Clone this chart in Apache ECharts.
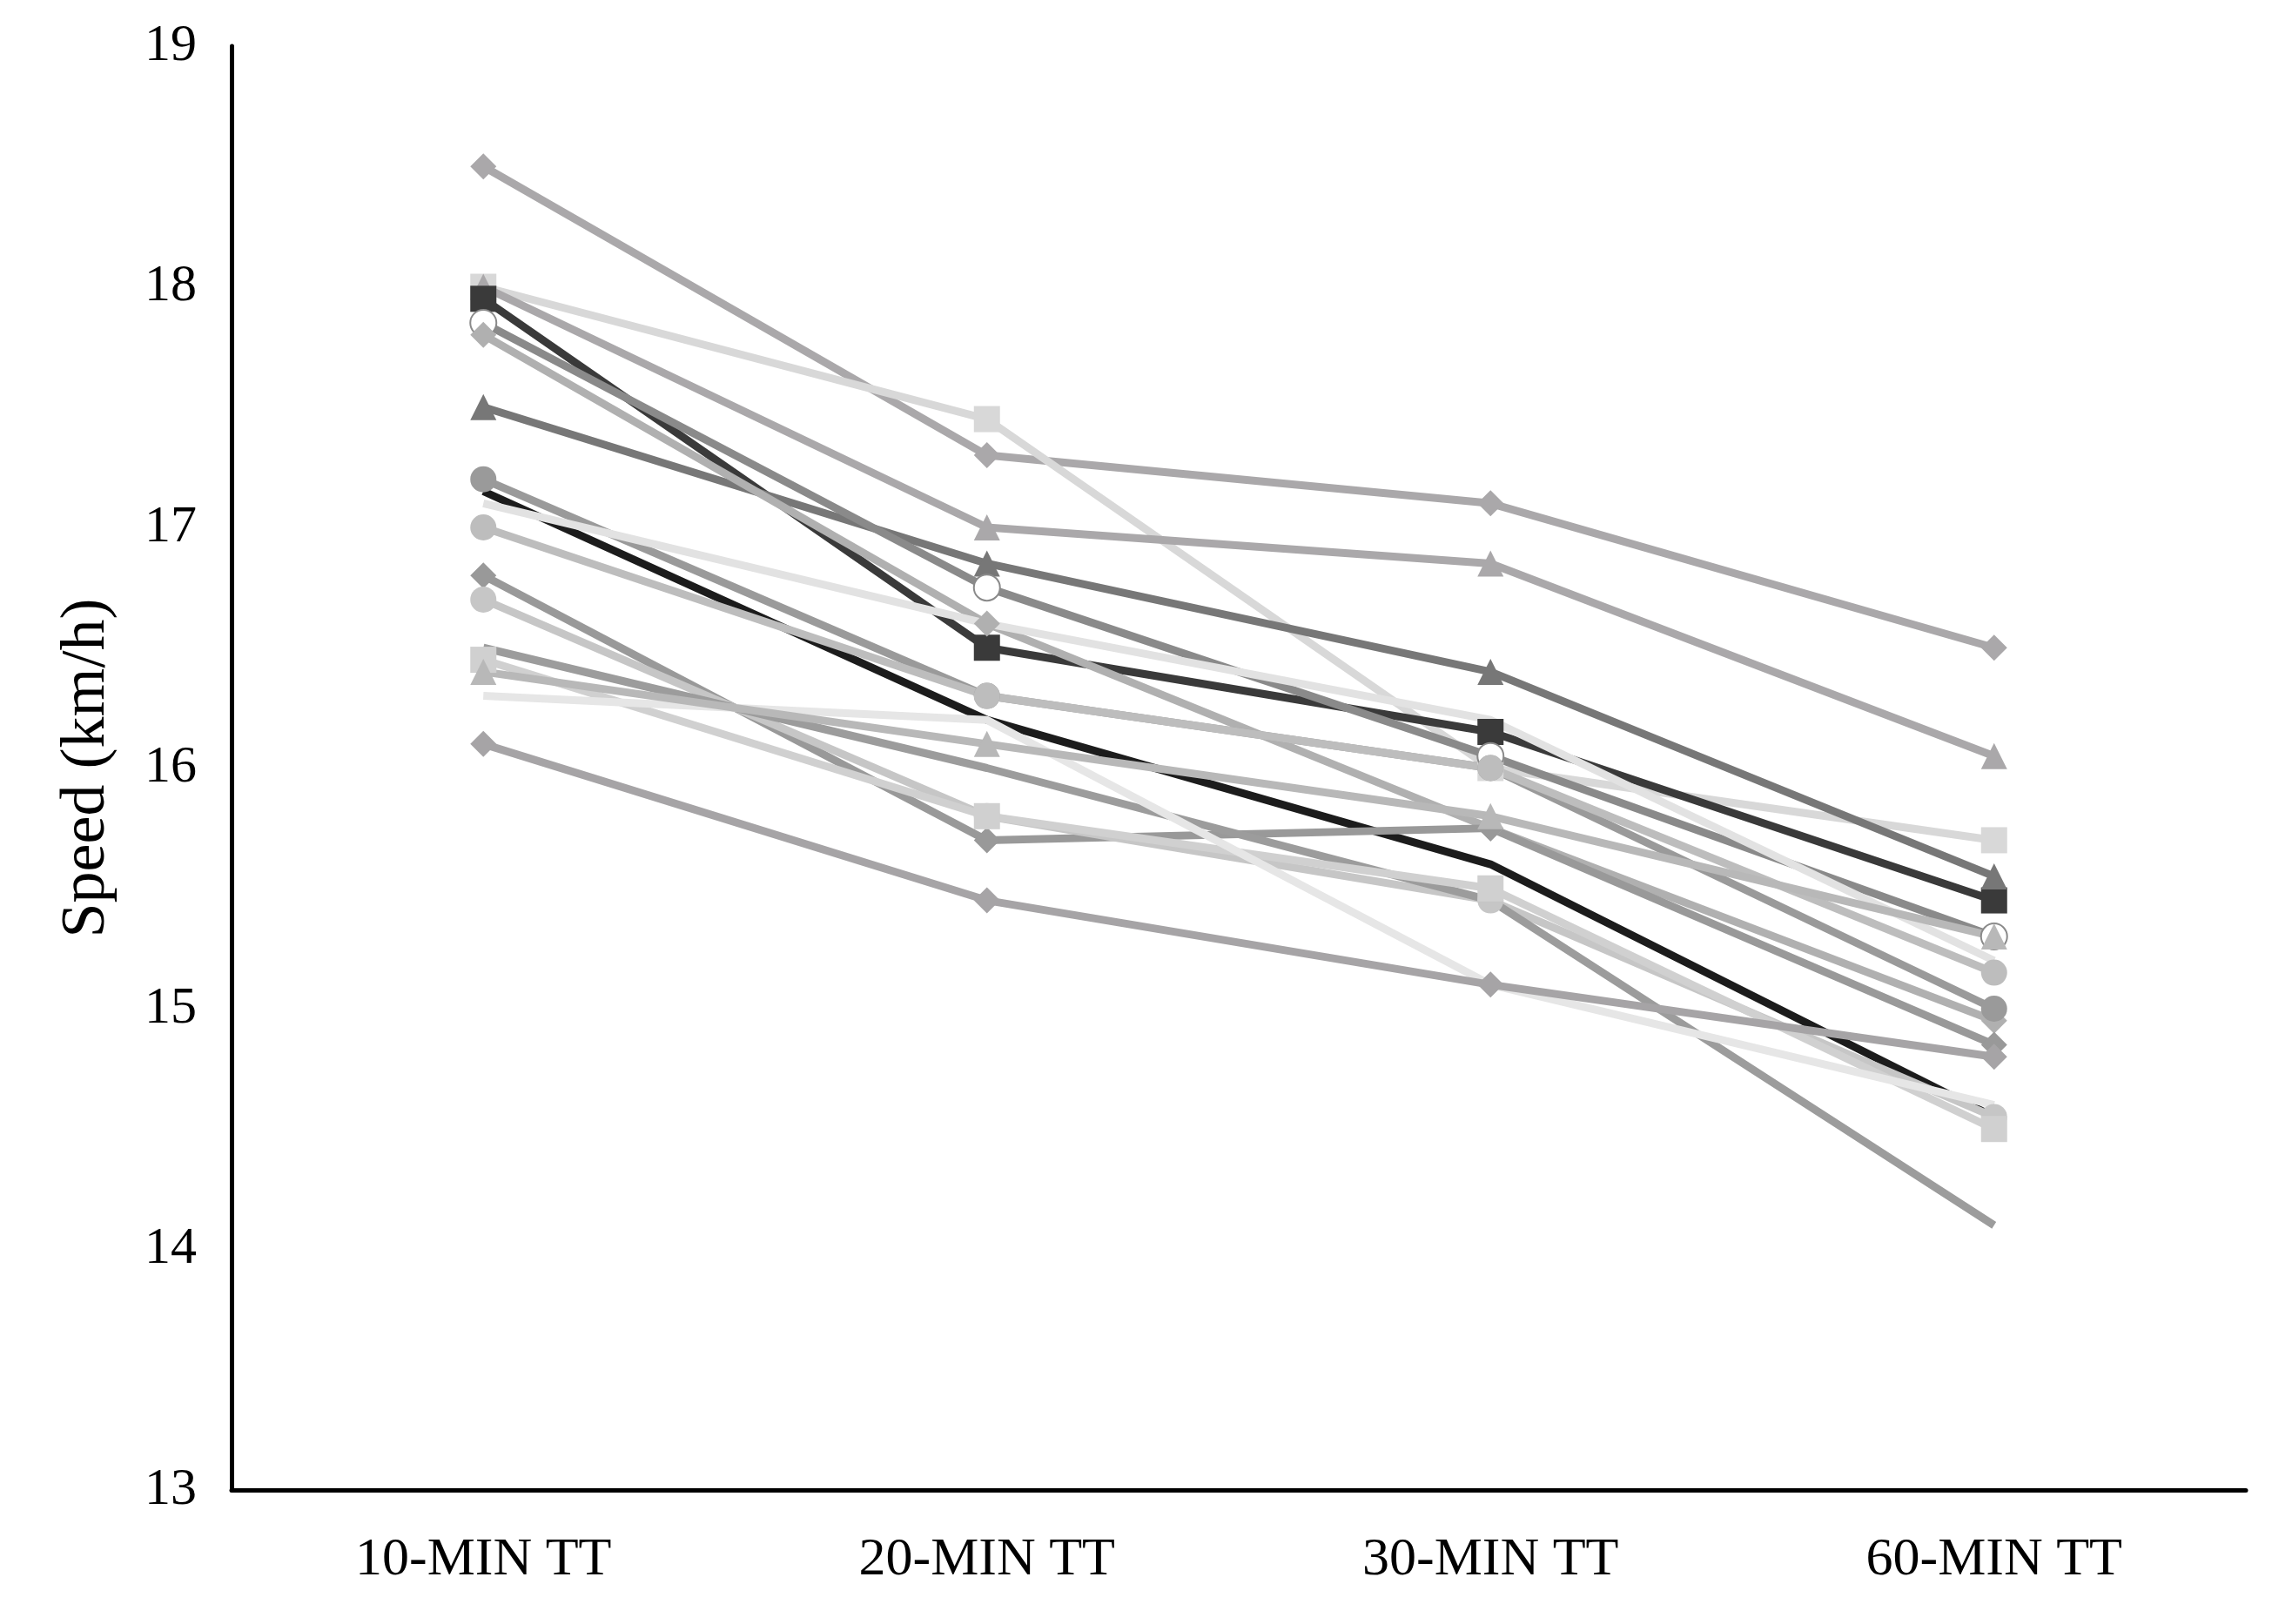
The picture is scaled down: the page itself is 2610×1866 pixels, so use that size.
<!DOCTYPE html>
<html>
<head>
<meta charset="utf-8">
<script src="https://cdn.jsdelivr.net/npm/echarts@6/dist/echarts.min.js"></script>
<style>html,body{margin:0;background:#fff}#c{width:2610px;height:1866px}</style>
</head>
<body>
<div id="c"></div>
<script>
var categories = ['10-MIN TT', '20-MIN TT', '30-MIN TT', '60-MIN TT'];
var yTicks = [13, 14, 15, 16, 17, 18, 19];
// one row per rider: speed at each test
var riders = [
    [18.5, 17.3, 17.1, 16.5],
    [18.0, 17.45, 16.0, 15.7],
    [18.0, 17.0, 16.85, 16.05],
    [17.95, 16.5, 16.15, 15.45],
    [17.5, 16.85, 16.4, 15.55],
    [17.85, 16.75, 16.05, 15.3],
    [17.8, 16.6, 15.75, 14.95],
    [17.15, 16.2, 15.6, 14.55],
    [17.2, 16.3, 16.0, 15.0],
    [17.0, 16.3, 16.0, 15.15],
    [17.1, 16.6, 16.2, 15.2],
    [16.8, 15.7, 15.75, 14.85],
    [16.7, 15.8, 15.45, 14.55],
    [16.5, 16.0, 15.45, 14.1],
    [16.45, 15.8, 15.5, 14.5],
    [16.3, 16.2, 15.1, 14.6],
    [16.1, 15.45, 15.1, 14.8],
    [16.4, 16.1, 15.8, 15.3]
];
var symbols = ['diamond', 'rect', 'triangle', 'rect', 'triangle', 'emptyCircle', 'diamond', 'none', 'circle', 'circle', 'none', 'diamond', 'circle', 'none', 'rect', 'none', 'diamond', 'triangle'];
var colors = ['#aaa8aa', '#d8d8d8', '#aaa8aa', '#3a3a3a', '#777777', '#8a8a8a', '#b0b0b0', '#1c1c1c', '#9a9a9a', '#bdbdbd', '#e2e2e2', '#999999', '#c6c6c6', '#9c9c9c', '#d0d0d0', '#e6e6e6', '#a6a4a6', '#b8b8b8'];

var myChart = echarts.init(document.getElementById('c'));
var font = '"Liberation Serif", "DejaVu Serif", serif';
myChart.setOption({
    backgroundColor: '#fff',
    animation: false,
    grid: { left: 266, right: 30, top: 53, bottom: 154 },
    xAxis: {
        type: 'category',
        data: categories,
        axisLine: { lineStyle: { color: '#000', width: 5 } },
        axisTick: { show: false },
        axisLabel: { fontFamily: font, fontSize: 62, color: '#000', margin: 50 }
    },
    yAxis: {
        type: 'value',
        min: yTicks[0],
        max: yTicks[yTicks.length - 1],
        interval: 1,
        name: 'Speed (km/h)',
        nameLocation: 'middle',
        nameGap: 130,
        nameTextStyle: { fontFamily: font, fontSize: 72, color: '#000' },
        axisLine: { show: true, lineStyle: { color: '#000', width: 5 } },
        axisTick: { show: false },
        splitLine: { show: false },
        axisLabel: { fontFamily: font, fontSize: 60, color: '#000', margin: 40 }
    },
    series: riders.map(function (d, i) {
        return {
            type: 'line',
            data: d,
            symbol: symbols[i],
            symbolSize: 30,
            lineStyle: { width: 9, color: colors[i] },
            itemStyle: { color: colors[i], borderWidth: 0 }
        };
    })
});
</script>
</body>
</html>
